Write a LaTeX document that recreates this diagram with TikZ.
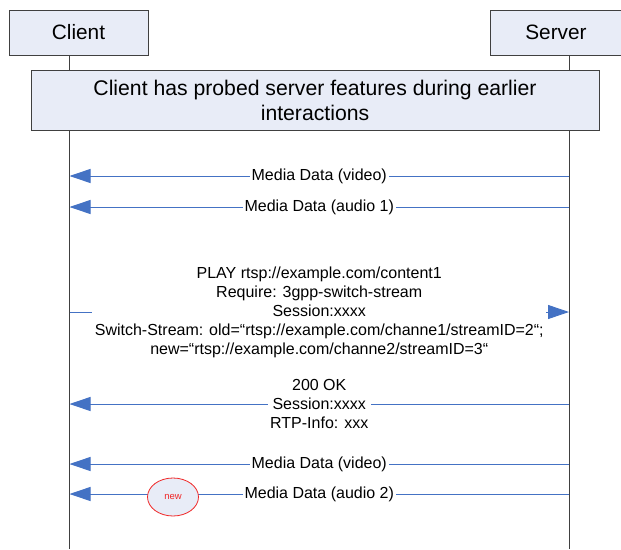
\documentclass[tikz,border=0pt]{standalone}
\usepackage{fontspec}
\setmainfont{Liberation Sans}
\usetikzlibrary{arrows.meta,shapes.geometric}
\definecolor{boxfill}{RGB}{232,236,247}
\definecolor{boxline}{RGB}{64,64,64}
\definecolor{msgblue}{RGB}{68,114,196}
\definecolor{newred}{RGB}{240,40,40}
\tikzset{
  actor/.style={draw=boxline, fill=boxfill, line width=0.8pt, minimum height=45pt, inner sep=0pt, font=\fontsize{20.8}{24}\selectfont},
  notebox/.style={draw=boxline, fill=boxfill, line width=0.8pt, minimum width=568pt, minimum height=60pt, inner sep=0pt, align=center, font=\fontsize{21.2}{25}\selectfont},
  life/.style={draw=boxline, line width=0.8pt},
  msg/.style={draw=msgblue, line width=0.9pt, -{Triangle[length=21pt,width=14pt]}},
  lbl/.style={fill=white, inner xsep=2pt, inner ysep=1pt, font=\fontsize{16}{19}\selectfont},
  blocklbl/.style={fill=white, inner xsep=2.5pt, inner ysep=1pt, align=center, font=\fontsize{16}{19}\selectfont},
  newmark/.style={ellipse, draw=newred, fill=boxfill, line width=0.8pt, minimum width=51pt, minimum height=38pt, inner sep=0pt, text=newred, font=\fontsize{9.5}{11}\selectfont}
}
\begin{document}
\begin{tikzpicture}[x=1pt,y=-1pt]
\useasboundingbox (0,0) rectangle (621,549);
\fill[white] (0,0) rectangle (621,549);
% actors
\node[actor, minimum width=139pt] (client) at (78.5,32.5) {Client};
\node[actor, minimum width=132pt] (server) at (556,32.5) {Server};
% lifeline ends
\coordinate (cbot) at (69.5,549);
\coordinate (sbot) at (569,549);
\draw[life] (cbot |- client.south) -- (cbot);
\draw[life] (sbot |- server.south) -- (sbot);
% note
\node[notebox] (note) at (315,100) {Client has probed server features during earlier\\interactions};
% message anchor points
\foreach \n/\y in {1/176,2/207,3/312,4/404,5/464,6/494}{
  \coordinate (c\n) at (69.5,\y);
  \coordinate (s\n) at (569,\y);
}
\draw[msg] (s1) -- node[lbl] (m1) {Media Data (video)} (c1);
\draw[msg] (s2) -- node[lbl] (m2) {Media Data (audio 1)} (c2);
\draw[msg] (c3) -- node[blocklbl] (m3) {PLAY rtsp://example.com/content1\\Require: 3gpp-switch-stream\\Session:xxxx\\Switch-Stream: old=“rtsp://example.com/channe1/streamID=2“;\\new=“rtsp://example.com/channe2/streamID=3“} (s3);
\draw[msg] (s4) -- node[blocklbl] (m4) {200 OK\\Session:xxxx\\RTP-Info: xxx} (c4);
\draw[msg] (s5) -- node[lbl] (m5) {Media Data (video)} (c5);
\draw[msg] (s6) -- node[lbl] (m6) {Media Data (audio 2)} (c6);
\node[newmark] (new) at (173,497) {new};
\end{tikzpicture}
\end{document}
